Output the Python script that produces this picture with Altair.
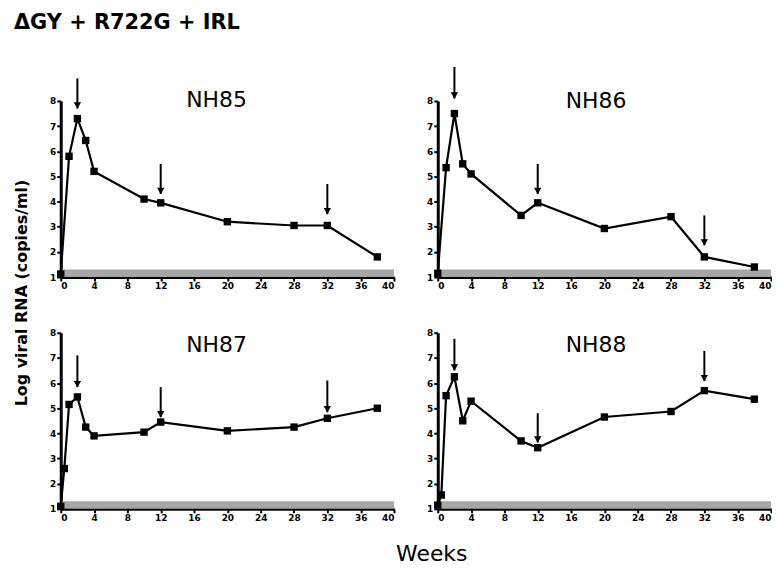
import altair as alt
import pandas as pd

# ---- data ----
monkeys = ["NH85", "NH86", "NH87", "NH88"]

weeks_85 = [0, 1, 2, 3, 4, 10, 12, 20, 28, 32, 38]
rna_85 = [1.12, 5.8, 7.3, 6.43, 5.2, 4.1, 3.95, 3.2, 3.05, 3.05, 1.8]

weeks_86 = [0, 1, 2, 3, 4, 10, 12, 20, 28, 32, 38]
rna_86 = [1.15, 5.35, 7.5, 5.5, 5.1, 3.45, 3.95, 2.93, 3.4, 1.8, 1.4]

weeks_87 = [0, 0.43, 1, 2, 3, 4, 10, 12, 20, 28, 32, 38]
rna_87 = [1.1, 2.6, 5.15, 5.45, 4.25, 3.9, 4.05, 4.45, 4.1, 4.25, 4.6, 5.0]

weeks_88 = [0, 0.43, 1, 2, 3, 4, 10, 12, 20, 28, 32, 38]
rna_88 = [1.15, 1.55, 5.5, 6.25, 4.5, 5.28, 3.7, 3.43, 4.65, 4.87, 5.7, 5.36]

arrow_weeks = [2, 12, 32]
arrow_tip_85 = [7.7, 4.3, 3.5]
arrow_tail_85 = [8.9, 5.5, 4.7]
arrow_tip_86 = [8.1, 4.3, 2.26]
arrow_tail_86 = [9.35, 5.5, 3.45]
arrow_tip_87 = [5.84, 4.64, 4.84]
arrow_tail_87 = [7.1, 5.84, 6.1]
arrow_tip_88 = [6.5, 3.64, 6.08]
arrow_tail_88 = [7.76, 4.8, 7.28]

label_x = [18.7, 19.0, 18.7, 19.0]
label_y = [8.05, 8.0, 7.5, 7.5]

limit_low = [1.0]
limit_high = [1.3]

x_ticks = [0, 4, 8, 12, 16, 20, 24, 28, 32, 36, 40]
y_ticks = [1, 2, 3, 4, 5, 6, 7, 8]

main_title = "\u0394GY + R722G + IRL"
y_title = "Log viral RNA (copies/ml)"
x_title = "Weeks"

FONT = "DejaVu Sans"
W, H = 335, 177


def panel(name, weeks, rna, tips, tails, lx, ly, extras=()):
    df = pd.DataFrame({"week": weeks, "rna": rna})
    adf = pd.DataFrame({"week": arrow_weeks, "tip": tips, "tail": tails})
    bdf = pd.DataFrame({"x0": [x_ticks[0]], "x1": [x_ticks[-1]],
                        "y0": limit_low, "y1": limit_high})
    ldf = pd.DataFrame({"week": [lx], "rna": [ly], "name": [name]})

    xs = alt.Scale(domain=[0, 40], nice=False, zero=False)
    ys = alt.Scale(domain=[1, 8], nice=False, zero=False)
    xax = alt.Axis(values=x_ticks, title=None, grid=False)
    yax = alt.Axis(values=y_ticks, title=None, grid=False)

    band = alt.Chart(bdf).mark_rect(color="#a6a6a6").encode(
        x=alt.X("x0:Q", scale=xs, axis=xax),
        x2="x1:Q",
        y=alt.Y("y0:Q", scale=ys, axis=yax),
        y2="y1:Q",
    )
    line = alt.Chart(df).mark_line(color="black", strokeWidth=2.2).encode(
        x=alt.X("week:Q", scale=xs, axis=xax),
        y=alt.Y("rna:Q", scale=ys, axis=yax),
    )
    pts = alt.Chart(df).mark_square(color="black", size=55, opacity=1).encode(
        x=alt.X("week:Q", scale=xs, axis=xax),
        y=alt.Y("rna:Q", scale=ys, axis=yax),
    )
    shafts = alt.Chart(adf).mark_rule(color="black", strokeWidth=2).encode(
        x=alt.X("week:Q", scale=xs, axis=xax),
        y=alt.Y("tail:Q", scale=ys, axis=yax),
        y2="tip:Q",
    )
    heads = alt.Chart(adf).mark_point(
        shape="triangle-down", filled=True, color="black", size=55, opacity=1, yOffset=-3
    ).encode(
        x=alt.X("week:Q", scale=xs, axis=xax),
        y=alt.Y("tip:Q", scale=ys, axis=yax),
    )
    lab = alt.Chart(ldf).mark_text(font=FONT, fontSize=22, color="black",
                                   align="center", baseline="middle").encode(
        x=alt.X("week:Q", scale=xs, axis=xax),
        y=alt.Y("rna:Q", scale=ys, axis=yax),
        text="name:N",
    )
    layers = [band, line, pts, shafts, heads, lab] + list(extras)
    return alt.layer(*layers).properties(width=W, height=H)


title_mark = alt.Chart(pd.DataFrame({"t": [main_title]})).mark_text(
    font=FONT, fontSize=21, fontWeight="bold", color="black",
    align="left", baseline="middle"
).encode(x=alt.value(-47), y=alt.value(-78.5), text="t:N")

ytitle_mark = alt.Chart(pd.DataFrame({"t": [y_title]})).mark_text(
    font=FONT, fontSize=16, fontWeight="bold", color="black",
    align="center", baseline="middle", angle=270
).encode(x=alt.value(-38.5), y=alt.value(193), text="t:N")

xtitle_mark = alt.Chart(pd.DataFrame({"t": [x_title]})).mark_text(
    font=FONT, fontSize=22, color="black",
    align="center", baseline="middle"
).encode(x=alt.value(373), y=alt.value(222), text="t:N")

p85 = panel(monkeys[0], weeks_85, rna_85, arrow_tip_85, arrow_tail_85,
            label_x[0], label_y[0], extras=[title_mark, ytitle_mark])
p86 = panel(monkeys[1], weeks_86, rna_86, arrow_tip_86, arrow_tail_86,
            label_x[1], label_y[1])
p87 = panel(monkeys[2], weeks_87, rna_87, arrow_tip_87, arrow_tail_87,
            label_x[2], label_y[2], extras=[xtitle_mark])
p88 = panel(monkeys[3], weeks_88, rna_88, arrow_tip_88, arrow_tail_88,
            label_x[3], label_y[3])

chart = alt.concat(
    p85, p86, p87, p88, columns=2,
    spacing={"row": 56, "column": 44}, bounds="flush"
).properties(
    padding={"left": 6, "top": 2, "right": 0, "bottom": 0}, background="white"
).configure_view(stroke=None).configure_axis(
    domainColor="black", domainWidth=3, tickColor="black", tickWidth=2,
    tickSize=4, labelFont=FONT, labelFontSize=9, labelFontWeight="bold",
    labelColor="black", labelPadding=1, grid=False
)

chart.save("out.html", embed_options={"renderer": "svg", "actions": False})
